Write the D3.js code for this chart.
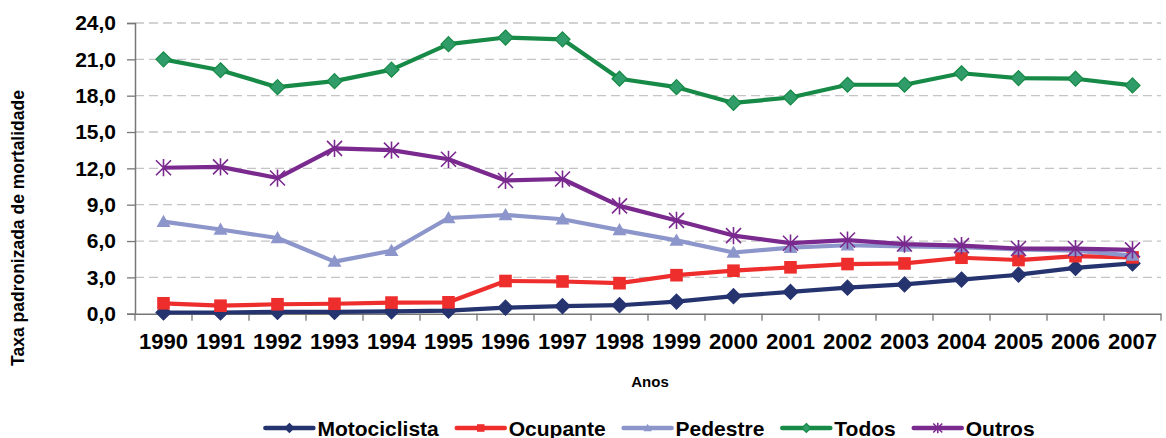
<!DOCTYPE html>
<html><head><meta charset="utf-8">
<script src="https://cdn.jsdelivr.net/npm/d3@7"></script>
<style>body{margin:0;background:#fff}svg{display:block;font-family:"Liberation Sans",Arial,sans-serif}</style>
</head><body><svg id="c" width="1166" height="438"></svg>
<script>
const years = ["1990","1991","1992","1993","1994","1995","1996","1997","1998","1999","2000","2001","2002","2003","2004","2005","2006","2007"];
const motociclista = [0.1,0.1,0.15,0.15,0.2,0.25,0.5,0.62,0.7,1.0,1.45,1.8,2.15,2.42,2.82,3.22,3.78,4.15];
const ocupante = [0.86,0.66,0.78,0.82,0.92,0.94,2.7,2.66,2.52,3.18,3.55,3.83,4.1,4.15,4.62,4.43,4.75,4.65];
const pedestre = [7.6,6.95,6.25,4.3,5.2,7.9,8.15,7.8,6.9,6.05,5.05,5.45,5.65,5.55,5.5,5.3,5.2,4.8];
const todos = [21.0,20.1,18.7,19.2,20.15,22.25,22.8,22.65,19.4,18.7,17.4,17.85,18.9,18.9,19.85,19.45,19.4,18.85];
const outros = [12.05,12.12,11.2,13.65,13.5,12.75,11.0,11.12,8.9,7.7,6.45,5.82,6.08,5.75,5.62,5.38,5.38,5.27];
const yTicks = [0,3,6,9,12,15,18,21,24];
const seriesNames = ["Motociclista","Ocupante","Pedestre","Todos","Outros"];

const series = [
  {name:seriesNames[0], values:motociclista, color:"#25336F", fill:"#25336F", marker:"diamond"},
  {name:seriesNames[1], values:ocupante, color:"#EE2D2D", fill:"#EE2D2D", marker:"square"},
  {name:seriesNames[2], values:pedestre, color:"#8D96CB", fill:"#8D96CB", marker:"triangle"},
  {name:seriesNames[3], values:todos, color:"#168A46", fill:"#2F9C69", marker:"diamond"},
  {name:seriesNames[4], values:outros, color:"#7A2A8E", fill:"none", marker:"star"}
];

const svg = d3.select("#c");
const L = 135, R = 1161, T = 23, B = 313.7;
const x = d3.scaleBand().domain(years).range([L, R]);
const y = d3.scaleLinear().domain([0, 24]).range([B, T]);
const cx = d => x(d) + x.bandwidth()/2;
const fmt = v => d3.format(".1f")(v).replace(".", ",");

// gridlines
svg.append("g").selectAll("line").data(yTicks.filter(t => t > 0)).join("line")
  .attr("x1", L).attr("x2", R).attr("y1", d => y(d)).attr("y2", d => y(d))
  .attr("stroke", "#C4C4C4").attr("stroke-width", 1.3).attr("stroke-dasharray", "9,5");

// y axis
const ya = svg.append("g").attr("transform", `translate(${L},0)`)
  .call(d3.axisLeft(y).tickValues(yTicks).tickFormat(fmt).tickSize(8).tickPadding(11));
ya.select(".domain").attr("stroke", "#777").attr("stroke-width", 1.5);
ya.selectAll(".tick line").attr("stroke", "#777").attr("stroke-width", 1.3);
ya.selectAll("text").attr("font-size", 21).attr("font-weight", "bold").attr("fill", "#000")
  .attr("font-family", "'Liberation Sans',Arial,sans-serif");

// x axis
const xa = svg.append("g").attr("transform", `translate(0,${B})`)
  .call(d3.axisBottom(x).tickSize(0).tickPadding(20));
xa.select(".domain").attr("stroke", "#777").attr("stroke-width", 1.5);
xa.selectAll("text").attr("font-size", 22).attr("font-weight", "bold").attr("fill", "#000")
  .attr("font-family", "'Liberation Sans',Arial,sans-serif");
// category boundary ticks
const bounds = years.map(d => x(d)).concat([R]);
svg.append("g").selectAll("line").data(bounds).join("line")
  .attr("x1", d => d).attr("x2", d => d).attr("y1", B).attr("y2", B + 7)
  .attr("stroke", "#777").attr("stroke-width", 1.3);

// titles
svg.append("text").attr("x", 650).attr("y", 387).attr("text-anchor", "middle")
  .attr("font-size", 15).attr("font-weight", "bold").text("Anos");
svg.append("text").attr("transform", "translate(24,228) rotate(-90)").attr("text-anchor", "middle")
  .attr("font-size", 17.5).attr("font-weight", "bold").text("Taxa padronizada de mortalidade");

function drawMarker(g, s, px, py, k) {
  if (s.marker === "diamond") {
    const r = 7.5*k;
    g.append("path").attr("d", `M${px},${py-r}L${px+r},${py}L${px},${py+r}L${px-r},${py}Z`)
      .attr("fill", s.fill).attr("stroke", s.color).attr("stroke-width", 1.2);
  } else if (s.marker === "square") {
    const r = 6.3*k;
    g.append("rect").attr("x", px-r).attr("y", py-r).attr("width", 2*r).attr("height", 2*r)
      .attr("fill", s.fill);
  } else if (s.marker === "triangle") {
    const r = 7*k;
    g.append("path").attr("d", `M${px},${py-r}L${px+r},${py+r*0.75}L${px-r},${py+r*0.75}Z`)
      .attr("fill", s.fill);
  } else if (s.marker === "star") {
    const r = 7.5*k;
    g.append("path").attr("d", `M${px-r},${py-r}L${px+r},${py+r}M${px-r},${py+r}L${px+r},${py-r}M${px},${py-r*1.15}L${px},${py+r*1.15}`)
      .attr("stroke", s.color).attr("stroke-width", 1.6).attr("fill", "none");
  }
}

const line = d3.line().x((d,i) => cx(years[i])).y(d => y(d));
series.forEach(s => {
  const g = svg.append("g");
  g.append("path").attr("d", line(s.values)).attr("fill", "none")
    .attr("stroke", s.color).attr("stroke-width", 4.2).attr("stroke-linejoin", "round");
  s.values.forEach((v,i) => drawMarker(g, s, cx(years[i]), y(v), 1));
});

// legend
const lg = svg.append("g");
let lx = 0;
const ly = 428;
series.forEach(s => {
  const g = lg.append("g");
  g.append("line").attr("x1", lx).attr("x2", lx + 48).attr("y1", ly).attr("y2", ly)
    .attr("stroke", s.color).attr("stroke-width", 4.5).attr("stroke-linecap", "round");
  drawMarker(g, s, lx + 24, ly, 0.6);
  const t = g.append("text").attr("x", lx + 52).attr("y", ly + 7.5).attr("font-size", 21)
    .attr("font-weight", "bold").text(s.name);
  lx += 52 + t.node().getComputedTextLength() + 18;
});
const total = lx - 18;
lg.attr("transform", `translate(${650 - total/2},0)`);
</script></body></html>
